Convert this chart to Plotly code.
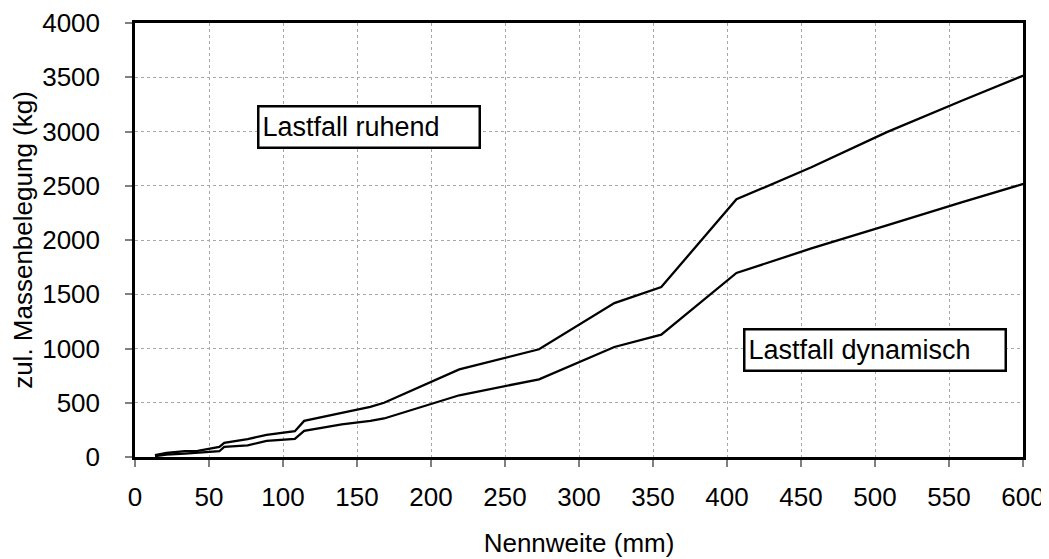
import plotly.graph_objects as go

# Outer diameter / nominal width (mm)
nennweite = [13.5, 21.3, 33.7, 42.4, 57, 60.3, 76.1, 88.9, 108, 114.3, 139.7, 159, 168.3,
             219.1, 273, 323.9, 355.6, 406.4, 457, 508, 559, 610]
ruhend = [18, 37, 55, 57, 93, 130, 165, 204, 238, 333, 407, 463, 500,
          808, 993, 1419, 1567, 2375, 2670, 2994, 3286, 3570]
dynamisch = [8, 22, 32, 38, 53, 93, 108, 148, 167, 241, 300, 333, 355,
             569, 716, 1014, 1128, 1696, 1922, 2134, 2350, 2556]

x_ticks = list(range(0, 601, 50))
y_ticks = list(range(0, 4001, 500))

FONT = "Liberation Sans, Arial, sans-serif"

fig = go.Figure()
for name, vals in [("Lastfall ruhend", ruhend), ("Lastfall dynamisch", dynamisch)]:
    fig.add_trace(go.Scatter(x=nennweite, y=vals, mode="lines", name=name,
                             line=dict(color="black", width=2.3), showlegend=False))

ann_common = dict(xref="x", yref="y", showarrow=False, align="left",
                  font=dict(family=FONT, size=27, color="black"),
                  bgcolor="white", bordercolor="black", borderwidth=2.5, borderpad=3,
                  width=213, height=33, xanchor="center", yanchor="middle")
fig.add_annotation(x=158.4, y=3039, text="Lastfall ruhend", **ann_common)
fig.add_annotation(x=500, y=988, text="Lastfall dynamisch",
                   **{**ann_common, "width": 253})

axis_common = dict(showline=True, linecolor="black", linewidth=2.5, mirror=True,
                   showgrid=True, gridcolor="#a8a8a8", griddash="dot", gridwidth=1,
                   ticks="outside", ticklen=7, tickcolor="#808080", tickwidth=2,
                   zeroline=False, automargin=False,
                   tickfont=dict(family=FONT, size=26, color="black"))

fig.update_xaxes(range=[0, 600], tickvals=x_ticks, ticklabelstandoff=8,
                 title=dict(text="Nennweite (mm)", font=dict(family=FONT, size=26, color="black"),
                            standoff=23),
                 **axis_common)
fig.update_yaxes(range=[0, 4000], tickvals=y_ticks, ticklabelstandoff=20,
                 title=dict(text="zul. Massenbelegung (kg)", font=dict(family=FONT, size=26, color="black"),
                            standoff=15),
                 **axis_common)

fig.update_layout(template="none", width=1049, height=559,
                  plot_bgcolor="white", paper_bgcolor="white",
                  margin=dict(l=127, r=34, t=15, b=110))

fig.write_html("out.html")
